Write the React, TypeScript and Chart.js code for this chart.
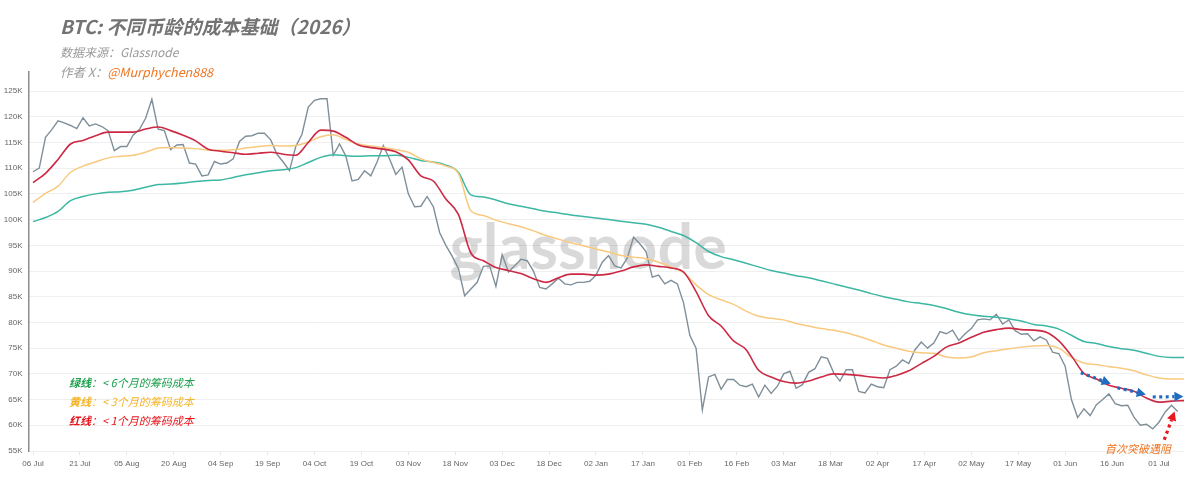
import React, { useEffect, useRef } from "react";
import { Chart, registerables } from "chart.js";

Chart.register(...registerables);

// Day index 0 = 06 Jul 2025
const PRICE_STEP_DAYS = 2;
const COST_STEP_DAYS = 4;

// BTC price (K USD), one value every 2 days
const PRICE = [
  109.3, 110.0, 116.0, 117.5, 119.2, 118.8, 118.3, 117.7, 119.8, 118.2,
  118.6, 118.1, 117.3, 113.4, 114.2, 114.2, 116.4, 117.5, 119.7, 123.4,
  117.6, 117.3, 113.6, 114.5, 114.6, 111.0, 110.8, 108.5, 108.7, 111.3,
  110.8, 111.0, 111.8, 115.2, 116.2, 116.3, 116.8, 116.8, 115.5, 112.7,
  111.2, 109.5, 114.2, 116.6, 121.9, 123.2, 123.5, 123.5, 112.5, 114.7,
  112.4, 107.5, 107.8, 109.5, 108.5, 111.2, 114.4, 111.8, 108.8, 110.2,
  105.0, 102.5, 102.6, 104.5, 102.5, 97.5, 95.0, 92.9, 90.5, 85.2,
  86.5, 87.8, 90.9, 91.0, 87.0, 93.2, 89.8, 91.0, 92.3, 92.0,
  90.0, 86.8, 86.5, 87.5, 88.6, 87.5, 87.3, 87.8, 87.8, 88.0,
  89.2, 91.7, 93.0, 91.0, 90.6, 92.5, 96.6, 95.3, 93.8, 88.8,
  89.2, 87.5, 88.2, 87.5, 83.8, 77.5, 75.0, 63.0, 69.4, 69.9,
  67.0, 68.9, 68.9, 67.8, 67.5, 68.0, 65.5, 67.8, 66.2, 67.6,
  70.0, 70.5, 67.2, 67.9, 70.3, 71.0, 73.3, 73.0, 70.2, 68.6,
  70.8, 70.8, 66.6, 66.3, 68.0, 67.5, 67.3, 70.8, 71.5, 72.7,
  72.0, 74.7, 76.2, 75.0, 76.0, 78.2, 77.8, 78.5, 76.5, 77.8,
  78.8, 80.5, 80.7, 80.5, 81.6, 79.7, 80.5, 78.4, 77.7, 77.8,
  76.4, 77.2, 76.6, 74.2, 73.9, 71.5, 65.0, 61.5, 63.2, 61.9,
  64.0, 65.0, 66.1, 64.2, 63.8, 63.9, 61.6, 60.0, 60.2, 59.3,
  60.6, 62.6, 63.9, 62.7,
];

// < 1 month cost basis (red), one value every 4 days
const COST_1M = [
  107.2, 109.0, 111.7, 114.7, 115.4, 116.3, 117.0, 117.0, 117.0, 117.6,
  118.0, 117.3, 116.4, 115.3, 113.7, 113.3, 113.0, 112.7, 112.9, 113.1,
  112.7, 112.5, 115.0, 117.4, 117.2, 116.0, 114.5, 114.0, 113.7, 113.2,
  111.6, 108.5, 107.5, 104.0, 101.0, 93.5, 92.0, 90.7, 90.1, 89.5,
  88.5, 87.8, 88.7, 89.4, 89.4, 89.2, 89.4, 90.0, 90.8, 91.2,
  90.9, 90.6, 89.8, 86.0, 81.3, 79.3, 76.4, 74.7, 70.7, 69.4,
  68.5, 68.2, 68.6, 69.4, 70.0, 69.9, 69.7, 69.4, 69.2, 69.7,
  70.6, 72.0, 73.4, 75.2, 76.0, 77.1, 78.1, 78.6, 78.9, 78.6,
  78.5, 78.1, 76.4, 73.5, 70.1, 69.0, 67.8, 67.2, 66.6, 65.3,
  64.5, 64.7, 64.8,
];

// < 3 months cost basis (yellow)
const COST_3M = [
  103.3, 105.1, 106.5, 109.2, 110.4, 111.2, 112.0, 112.3, 112.5, 113.1,
  113.9, 114.0, 113.9, 113.8, 113.5, 113.5, 113.6, 113.9, 114.2, 114.4,
  114.3, 114.4, 115.1, 116.1, 116.5, 115.6, 114.7, 114.3, 114.0, 113.6,
  113.1, 111.8, 111.1, 110.4, 109.0, 101.7, 100.8, 99.9, 99.2, 98.6,
  97.8, 96.9, 96.2, 95.5, 94.9, 94.3, 93.7, 93.0, 92.7, 92.4,
  91.7, 90.8, 89.7, 87.3, 85.4, 84.4, 83.5, 82.2, 81.2, 80.8,
  80.5, 79.8, 79.3, 78.8, 78.5, 78.0, 77.3, 76.5, 75.6, 75.0,
  74.4, 74.1, 74.0, 73.3, 73.1, 73.3, 74.1, 74.5, 74.9, 75.2,
  75.4, 75.5, 75.0, 73.2, 72.1, 71.8, 71.4, 71.1, 70.6, 69.8,
  69.2, 69.0, 69.0,
];

// < 6 months cost basis (green)
const COST_6M = [
  99.6, 100.4, 101.6, 103.7, 104.5, 105.0, 105.3, 105.4, 105.7, 106.3,
  106.8, 106.9, 107.1, 107.4, 107.6, 107.7, 108.2, 108.7, 109.1, 109.5,
  109.7, 110.1, 111.1, 112.1, 112.6, 112.4, 112.3, 112.4, 112.4, 112.5,
  112.1, 111.5, 111.2, 110.6, 109.2, 104.8, 104.4, 103.8, 103.1, 102.6,
  102.1, 101.6, 101.3, 100.9, 100.6, 100.3, 100.0, 99.7, 99.4, 99.1,
  98.5, 97.7, 96.9, 95.5, 93.8, 92.8, 92.2, 91.5, 90.8, 90.1,
  89.6, 89.1, 88.7, 88.1, 87.5, 86.9, 86.3, 85.6, 85.0, 84.5,
  84.0, 83.7, 83.3, 82.7, 82.0, 81.5, 81.2, 81.0, 80.7, 80.3,
  79.6, 79.3, 78.7, 77.5, 76.3, 75.9, 75.3, 74.9, 74.6, 74.0,
  73.4, 73.2, 73.2,
];

const X_TICK_DAYS = [0, 15, 30, 45, 60, 75, 90, 105, 120, 135, 150, 165, 180, 195, 210, 225, 240, 255, 270, 285, 300, 315, 330, 345, 360];
const X_TICK_LABELS = [
  "06 Jul", "21 Jul", "05 Aug", "20 Aug", "04 Sep", "19 Sep", "04 Oct", "19 Oct", "03 Nov",
  "18 Nov", "03 Dec", "18 Dec", "02 Jan", "17 Jan", "01 Feb", "16 Feb", "03 Mar", "18 Mar",
  "02 Apr", "17 Apr", "02 May", "17 May", "01 Jun", "16 Jun", "01 Jul",
];
const Y_TICKS = [55, 60, 65, 70, 75, 80, 85, 90, 95, 100, 105, 110, 115, 120, 125];

// annotation arrows in data space: [day0, value0, day1, value1]
const BLUE_ARROWS = [
  [335, 70.2, 344.6, 68.1],
  [346.7, 67.3, 355.8, 66.0],
  [358, 65.5, 367.8, 65.6],
];
const RED_ARROW = [361.7, 57.2, 365, 62.7];
const WATERMARK_AT = [177.5, 90.3];

const toPoints = (arr: number[], step: number) => arr.map((v, i) => ({ x: i * step, y: v }));

function dottedArrow(ctx: CanvasRenderingContext2D, x0: number, y0: number, x1: number, y1: number, color: string) {
  const ang = Math.atan2(y1 - y0, x1 - x0);
  const head = 9;
  const half = 4.8;
  const ex = x1 - Math.cos(ang) * head;
  const ey = y1 - Math.sin(ang) * head;
  ctx.save();
  ctx.strokeStyle = color;
  ctx.lineWidth = 3.2;
  ctx.setLineDash([3, 3.5]);
  ctx.beginPath();
  ctx.moveTo(x0, y0);
  ctx.lineTo(ex, ey);
  ctx.stroke();
  ctx.setLineDash([]);
  ctx.fillStyle = color;
  ctx.beginPath();
  ctx.moveTo(x1, y1);
  ctx.lineTo(ex + Math.sin(ang) * half, ey - Math.cos(ang) * half);
  ctx.lineTo(ex - Math.sin(ang) * half, ey + Math.cos(ang) * half);
  ctx.closePath();
  ctx.fill();
  ctx.restore();
}

const overlayPlugin = {
  id: "overlayPlugin",
  beforeDatasetsDraw(chart: any) {
    const { ctx, scales } = chart;
    ctx.save();
    ctx.font = "bold 63px Lato, 'Open Sans', sans-serif";
    ctx.fillStyle = "rgba(0,0,0,0.15)";
    ctx.textAlign = "center";
    ctx.textBaseline = "alphabetic";
    ctx.fillText("glassnode", scales.x.getPixelForValue(WATERMARK_AT[0]), scales.y.getPixelForValue(WATERMARK_AT[1]));
    ctx.restore();
  },
  afterDatasetsDraw(chart: any) {
    const { ctx, scales } = chart;
    const px = (d: number) => scales.x.getPixelForValue(d);
    const py = (v: number) => scales.y.getPixelForValue(v);
    BLUE_ARROWS.forEach((a) => dottedArrow(ctx, px(a[0]), py(a[1]), px(a[2]), py(a[3]), "#1f6cc0"));
    dottedArrow(ctx, px(RED_ARROW[0]), py(RED_ARROW[1]), px(RED_ARROW[2]), py(RED_ARROW[3]), "#e8161e");
  },
};

export default function App() {
  const ref = useRef<HTMLCanvasElement | null>(null);

  useEffect(() => {
    if (!ref.current) return;
    const tickFont = { family: "'Liberation Sans', Arial, sans-serif", size: 8 };
    const chart = new Chart(ref.current, {
      type: "line",
      data: {
        datasets: [
          {
            label: "< 1个月的筹码成本",
            data: toPoints(COST_1M, COST_STEP_DAYS),
            borderColor: "#cc2944",
            borderWidth: 1.6,
            pointRadius: 0,
            cubicInterpolationMode: "monotone",
          },
          {
            label: "< 3个月的筹码成本",
            data: toPoints(COST_3M, COST_STEP_DAYS),
            borderColor: "#f9c97f",
            borderWidth: 1.5,
            pointRadius: 0,
            cubicInterpolationMode: "monotone",
          },
          {
            label: "< 6个月的筹码成本",
            data: toPoints(COST_6M, COST_STEP_DAYS),
            borderColor: "#3cb7a4",
            borderWidth: 1.5,
            pointRadius: 0,
            cubicInterpolationMode: "monotone",
          },
          {
            label: "BTC",
            data: toPoints(PRICE, PRICE_STEP_DAYS),
            borderColor: "#7f8f99",
            borderWidth: 1.4,
            pointRadius: 0,
            tension: 0,
          },
        ],
      },
      options: {
        responsive: false,
        animation: false,
        events: [],
        layout: { padding: { left: 0, right: 16, top: 72, bottom: 0 } },
        plugins: { legend: { display: false }, tooltip: { enabled: false }, title: { display: false } },
        scales: {
          x: {
            type: "linear",
            min: -1.44,
            max: 368,
            afterBuildTicks: (s: any) => {
              s.ticks = X_TICK_DAYS.map((v) => ({ value: v }));
            },
            afterFit: (s: any) => {
              s.height = 39;
            },
            grid: { drawOnChartArea: false, drawTicks: true, tickLength: 4, color: "#e6e6e6" },
            border: { display: false },
            ticks: {
              font: tickFont,
              color: "#666",
              padding: 4,
              maxRotation: 0,
              autoSkip: false,
              callback: (v: any) => {
                const i = X_TICK_DAYS.indexOf(Number(v));
                return i >= 0 ? X_TICK_LABELS[i] : "";
              },
            },
          },
          y: {
            type: "linear",
            min: 55,
            max: 128.7,
            afterBuildTicks: (s: any) => {
              s.ticks = Y_TICKS.map((v) => ({ value: v }));
            },
            afterFit: (s: any) => {
              s.width = 28.5;
            },
            grid: { color: "#efefef", lineWidth: 1, drawTicks: false },
            border: { display: true, color: "#8c8c8c", width: 1.5 },
            ticks: {
              font: tickFont,
              color: "#666",
              padding: 6,
              callback: (v: any) => `${v}K`,
            },
          },
        },
      },
      plugins: [overlayPlugin],
    } as any);
    return () => chart.destroy();
  }, []);

  const cjk = "'Noto Sans CJK SC', 'Noto Sans', sans-serif";
  const note = (color: string, top: number, head: string, body: string) => (
    <div
      style={{
        position: "absolute",
        left: 69,
        top,
        fontFamily: cjk,
        fontSize: 11,
        lineHeight: "14px",
        fontStyle: "italic",
        color,
        whiteSpace: "nowrap",
      }}
    >
      <span style={{ fontWeight: 700 }}>{head}</span>
      {body}
    </div>
  );

  return (
    <div style={{ position: "absolute", left: 0, top: 0, width: 1200, height: 490, background: "#fff", overflow: "hidden" }}>
      <canvas ref={ref} width={1200} height={490} style={{ position: "absolute", left: 0, top: 0 }} />
      <div
        style={{
          position: "absolute",
          left: 60,
          top: 13,
          fontFamily: cjk,
          fontSize: 19,
          lineHeight: "26px",
          fontWeight: 700,
          fontStyle: "italic",
          color: "#737373",
          whiteSpace: "nowrap",
        }}
      >
        BTC: 不同币龄的成本基础（2026）
      </div>
      <div
        style={{
          position: "absolute",
          left: 60,
          top: 44,
          fontFamily: cjk,
          fontSize: 12,
          lineHeight: "16px",
          fontStyle: "italic",
          color: "#9a9a9a",
          whiteSpace: "nowrap",
        }}
      >
        数据来源：Glassnode
      </div>
      <div
        style={{
          position: "absolute",
          left: 60,
          top: 64,
          fontFamily: cjk,
          fontSize: 12.5,
          lineHeight: "16px",
          fontStyle: "italic",
          color: "#9a9a9a",
          whiteSpace: "nowrap",
        }}
      >
        作者 X：<span style={{ color: "#f07522" }}>@Murphychen888</span>
      </div>
      {note("#1c9f4c", 375, "绿线", "：< 6个月的筹码成本")}
      {note("#f5b52a", 394, "黄线", "：< 3个月的筹码成本")}
      {note("#e8141c", 413, "红线", "：< 1个月的筹码成本")}
      <div
        style={{
          position: "absolute",
          left: 1105,
          top: 441,
          fontFamily: cjk,
          fontSize: 11,
          lineHeight: "14px",
          fontStyle: "italic",
          color: "#f07522",
          whiteSpace: "nowrap",
        }}
      >
        首次突破遇阻
      </div>
    </div>
  );
}
